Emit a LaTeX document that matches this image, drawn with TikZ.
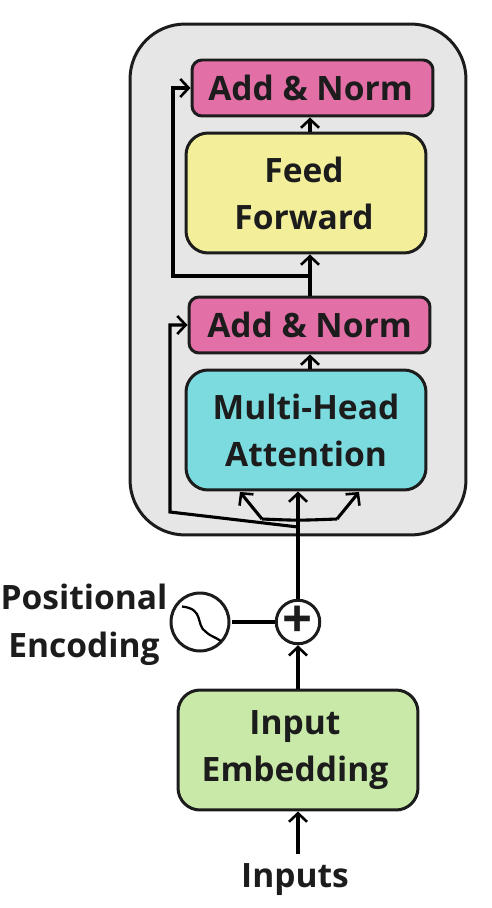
\documentclass[tikz,border=0pt]{standalone}
\usepackage{fontspec}
\setmainfont{Open Sans}
\usetikzlibrary{arrows.meta}
\definecolor{ink}{HTML}{1C1C1C}
\definecolor{panelgrey}{HTML}{E6E6E6}
\definecolor{normpink}{HTML}{E26FA6}
\definecolor{ffyellow}{HTML}{F3EE9A}
\definecolor{attncyan}{HTML}{7CDBDF}
\definecolor{embedgreen}{HTML}{C8E9A8}
\tikzset{
  block/.style={draw=ink, line width=0.06cm, align=center, text=ink, font=\fontsize{19.1pt}{26.8pt}\selectfont\bfseries},
  normblock/.style={block, fill=normpink, minimum width=4.82cm, minimum height=1.12cm, rounded corners=0.2cm},
  bigblock/.style={block, minimum width=4.8cm, minimum height=2.4cm, rounded corners=0.44cm},
  caption/.style={align=center, text=ink, font=\fontsize{19.1pt}{27.4pt}\selectfont\bfseries},
  link/.style={line width=0.062cm, black},
  arrowlink/.style={link, -{Straight Barb[length=0.17cm, width=0.36cm, line width=0.052cm]}}
}
\begin{document}
\begin{tikzpicture}[x=0.02cm, y=-0.02cm]
        \useasboundingbox (0,0) rectangle (491,908);

        % Panel
        \node[draw=ink, line width=0.06cm, fill=panelgrey, minimum width=6.72cm, minimum height=10.22cm, rounded corners=1.1cm] (panel) at (298,279.5) {};

        % Blocks
        \node[normblock] (topnorm) at (312.5,88) {Add \& Norm\hspace*{0.08cm}};
        \node[bigblock, fill=ffyellow] (feed) at (306,193) {Feed\hspace*{0.08cm}\\Forward\hspace*{0.08cm}};
        \node[normblock] (lownorm) at (309.5,325) {Add \& Norm};
        \node[bigblock, fill=attncyan] (attn) at (306,430) {Multi-Head\\Attention};
        \node[bigblock, fill=embedgreen] (embed) at (298,750) {Input\hspace*{0.12cm}\\Embedding\hspace*{0.12cm}};

        % Sum and encoding
        \node[circle, draw=ink, line width=0.06cm, fill=white, minimum size=0.78cm, inner sep=0pt, text=ink, font=\fontsize{30pt}{30pt}\selectfont\bfseries] (plus) at (298,622) {+};
        \node[circle, draw=ink, line width=0.06cm, fill=white, minimum size=1.16cm, inner sep=0pt] (wave) at (200,622) {};
        \draw[link, line width=0.045cm] (182,606.5) .. controls (205,609) and (195,625) .. (206,632) .. controls (210,636) and (215,637) .. (221,641);

        % Labels
        \node[caption] (posenc) at (84,625) {Positional\\Encoding};
        \node[caption] (inputs) at (295,880) {Inputs};

        % Helper points
        \coordinate (stem) at (310,0);
        \coordinate (skipa) at (173,276);
        \coordinate (skipb) at (173,88);
        \coordinate (skipc) at (170,512);
        \coordinate (skipd) at (170,325);
        \coordinate (merge) at (298,527);
        \coordinate (splitl) at (262,519);
        \coordinate (splitm) at (298,520.5);
        \coordinate (splitr) at (337,519);
        \coordinate (tipl) at (240,492);
        \coordinate (tipr) at (359,492);

        % Main path
        \draw[arrowlink] (inputs.north -| plus) ++(0,-4) -- (embed.south -| plus);
        \draw[arrowlink] (embed.north -| plus) -- (plus.south);
        \draw[link] (wave.east) ++(2,0) -- (plus.west);
        \draw[arrowlink] (plus.north) -- (attn.south -| plus);
        \draw[arrowlink] (attn.north -| stem) -- (lownorm.south -| stem);
        \draw[arrowlink] (lownorm.north -| stem) -- (feed.south -| stem);
        \draw[arrowlink] (feed.north -| stem) -- (topnorm.south -| stem);

        % Skip connections
        \draw[arrowlink] (stem |- skipa) -- (skipa) -- (skipb) -- (topnorm.west |- skipb);
        \draw[arrowlink] (merge) -- (skipc) -- (skipd) -- (lownorm.west |- skipd);

        % Attention inputs
        \draw[arrowlink] (splitl) -- (tipl);
        \draw[arrowlink] (splitr) -- (tipr);
        \draw[link] (splitl) .. controls (splitm) .. (splitr);
    \end{tikzpicture}
\end{document}
